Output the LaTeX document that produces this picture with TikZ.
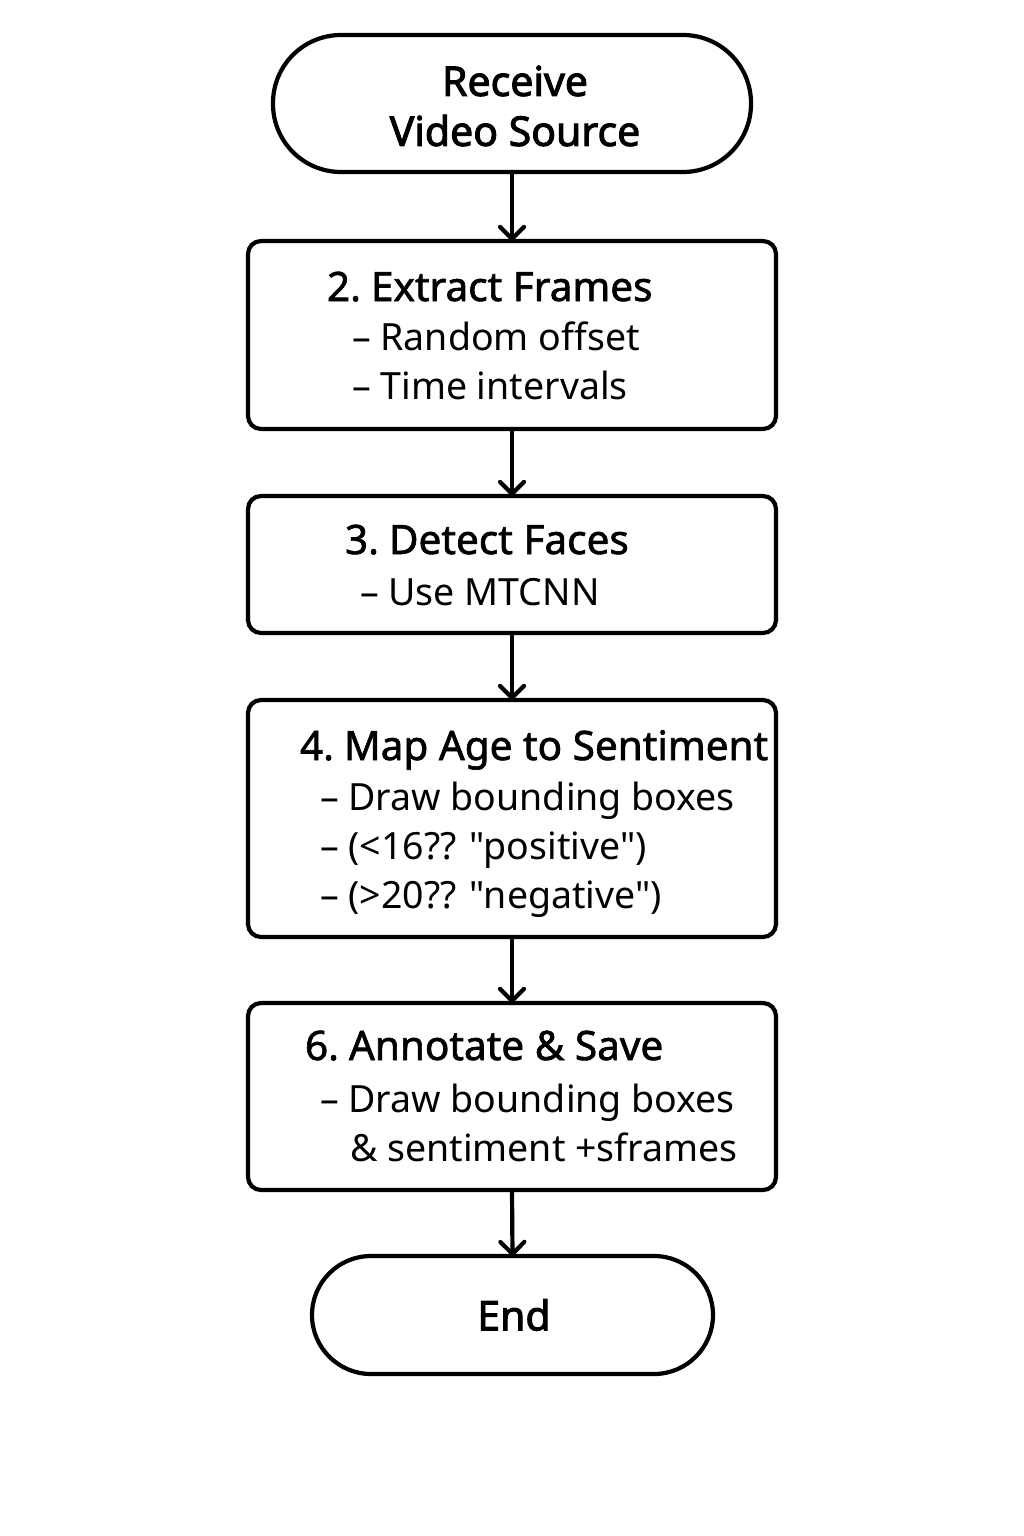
\documentclass[tikz,border=0pt]{standalone}
\usepackage{fontspec}
\setmainfont{Noto Sans}[Ligatures=TeXOff]
\newfontfamily\headfont{Noto Sans}[Ligatures=TeXOff,FakeBold=1.6]
\newfontfamily\termfont{Noto Sans}[Ligatures=TeXOff,FakeBold=2.4]
\usetikzlibrary{arrows.meta}
\begin{document}
\begin{tikzpicture}[x=1pt,y=-1pt,
  every node/.style={inner sep=0pt,outer sep=0pt},
  procbox/.style={draw,line width=4.2pt,rounded corners=13pt,minimum width=528pt,minimum height=188pt},
  termbox/.style={draw,line width=4.2pt},
  head/.style={anchor=base west,font=\headfont\fontsize{40.5}{44}\selectfont},
  sub/.style={anchor=base west,font=\fontsize{37.5}{44}\selectfont},
  termtext/.style={align=center,font=\termfont\fontsize{41}{50}\selectfont},
  flow/.style={draw,line width=4.2pt,line cap=round,-{Straight Barb[length=12pt,width=24pt,round]}}
]
\useasboundingbox (0,0) rectangle (1024,1536);
\fill[white] (0,0) rectangle (1024,1536);

% start
\node[termbox,rounded corners=68pt,minimum width=478pt,minimum height=137pt] (start) at (512,103.5) {};
\node[termtext] (starttext) at (515,106) {Receive\\Video Source};

% box 2
\node[procbox,minimum height=188pt] (b2) at (512,335) {};
\node[head] (b2h) at (327,301) {2.\hspace{-0.1em} Extract Frames};
\node[sub] (b2a) at (352,350) {– Random offset};
\node[sub] (b2b) at (352,399) {– Time intervals};

% box 3
\node[procbox,minimum height=137pt] (b3) at (512,564.5) {};
\node[head] (b3h) at (345,554) {3.\hspace{-0.1em} Detect Faces};
\node[sub] (b3a) at (360,605) {– Use MTCNN};

% box 4
\node[procbox,minimum height=237pt] (b4) at (512,818.5) {};
\node[head] (b4h) at (300,760) {4.\hspace{-0.1em} Map Age to Sentiment};
\node[sub] (b4a) at (320,810) {– Draw bounding boxes};
\node[sub] (b4b) at (320,859) {– (<16?? "positive")};
\node[sub] (b4c) at (320,908) {– (>20?? "negative")};

% box 6
\node[procbox,minimum height=187pt] (b6) at (512,1096.5) {};
\node[head] (b6h) at (305,1060) {6.\hspace{-0.1em} Annotate \& Save};
\node[sub] (b6a) at (320,1112) {– Draw bounding boxes};
\node[sub] (b6b) at (350,1161) {\& sentiment +sframes};

% end
\node[termbox,rounded corners=59pt,minimum width=401pt,minimum height=118pt] (end) at (512.5,1315) {};
\node[termtext] (endtext) at (514,1315) {End};

% connectors
\draw[flow] (start.south) -- (b2.north);
\draw[flow] (b2.south) -- (b3.north);
\draw[flow] (b3.south) -- (b4.north);
\draw[flow] (b4.south) -- (b6.north);
\draw[flow] (b6.south) -- (end.north);
\end{tikzpicture}
\end{document}
